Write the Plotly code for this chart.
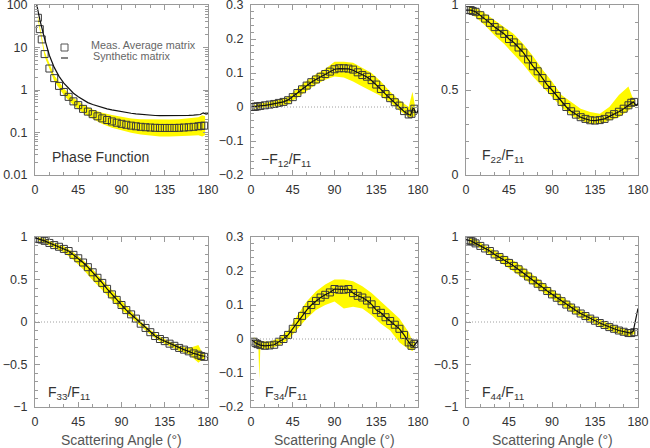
import plotly.graph_objects as go
from plotly.subplots import make_subplots

# ---------------- data ----------------
meas_angle = [3, 5, 7, 10, 15, 20, 25, 30, 35, 40, 45, 50, 55, 60, 65, 70, 75, 80, 85, 90,
              95, 100, 105, 110, 115, 120, 125, 130, 135, 140, 145, 150, 155, 160, 165, 170, 173, 176]

meas_f11 = [50, 27, 15.5, 7.0, 3.2, 1.9, 1.25, 0.90, 0.69, 0.54, 0.44, 0.36, 0.31, 0.27, 0.24, 0.215,
            0.197, 0.182, 0.170, 0.160, 0.152, 0.145, 0.140, 0.136, 0.133, 0.131, 0.129, 0.128, 0.128,
            0.128, 0.128, 0.129, 0.131, 0.133, 0.136, 0.140, 0.143, 0.145]
meas_f12 = [0.0, 0.001, 0.002, 0.003, 0.005, 0.007, 0.009, 0.012, 0.015, 0.02, 0.029, 0.041, 0.052,
            0.063, 0.073, 0.081, 0.089, 0.097, 0.104, 0.111, 0.114, 0.114, 0.113, 0.110, 0.102, 0.094,
            0.089, 0.079, 0.066, 0.053, 0.038, 0.026, 0.014, 0.004, -0.012, -0.022, -0.02, -0.005]
meas_f22 = [0.97, 0.97, 0.965, 0.96, 0.94, 0.92, 0.895, 0.87, 0.85, 0.83, 0.80, 0.78, 0.75, 0.72, 0.68,
            0.64, 0.61, 0.57, 0.53, 0.50, 0.465, 0.43, 0.40, 0.375, 0.355, 0.34, 0.33, 0.322, 0.32,
            0.323, 0.33, 0.345, 0.358, 0.372, 0.39, 0.41, 0.425, 0.43]
meas_f33 = [0.98, 0.975, 0.97, 0.955, 0.93, 0.905, 0.885, 0.86, 0.835, 0.79, 0.75, 0.70, 0.645, 0.585,
            0.52, 0.46, 0.39, 0.325, 0.26, 0.2, 0.14, 0.09, 0.04, -0.02, -0.07, -0.12, -0.165, -0.2,
            -0.225, -0.255, -0.28, -0.305, -0.325, -0.345, -0.37, -0.385, -0.40, -0.41]
meas_f34 = [-0.008, -0.012, -0.015, -0.018, -0.02, -0.019, -0.017, -0.008, 0.0, 0.012, 0.03, 0.05,
            0.068, 0.085, 0.1, 0.112, 0.122, 0.13, 0.137, 0.147, 0.145, 0.145, 0.147, 0.135, 0.127,
            0.122, 0.113, 0.102, 0.085, 0.077, 0.064, 0.053, 0.042, 0.03, 0.012, -0.01, -0.02, -0.015]
meas_f44 = [0.96, 0.955, 0.945, 0.925, 0.895, 0.865, 0.835, 0.795, 0.765, 0.73, 0.695, 0.66, 0.62,
            0.58, 0.535, 0.49, 0.45, 0.41, 0.365, 0.325, 0.285, 0.245, 0.205, 0.17, 0.135, 0.1, 0.07,
            0.04, 0.015, -0.012, -0.035, -0.06, -0.08, -0.1, -0.115, -0.13, -0.13, -0.12]

syn_angle = [0, 5, 10, 15, 20, 25, 30, 35, 40, 45, 50, 55, 60, 65, 70, 75, 80, 85, 90, 95, 100,
             105, 110, 115, 120, 125, 130, 135, 140, 145, 150, 155, 160, 165, 170, 172, 175, 178, 180]

syn_f11 = [160, 45, 16, 6.5, 3.4, 2.1, 1.45, 1.07, 0.84, 0.69, 0.58, 0.505, 0.455, 0.415, 0.385, 0.36,
           0.34, 0.322, 0.308, 0.295, 0.284, 0.275, 0.267, 0.26, 0.255, 0.251, 0.249, 0.248, 0.248,
           0.248, 0.249, 0.25, 0.252, 0.255, 0.259, 0.265, 0.29, 0.27, 0.28]
syn_f12 = [0.0, 0.001, 0.003, 0.005, 0.007, 0.009, 0.012, 0.015, 0.021, 0.03, 0.041, 0.052, 0.063,
           0.073, 0.081, 0.089, 0.097, 0.104, 0.111, 0.113, 0.113, 0.112, 0.108, 0.101, 0.094, 0.088,
           0.078, 0.066, 0.052, 0.038, 0.025, 0.013, 0.002, -0.013, -0.022, -0.024, 0.0, -0.022, -0.01]
syn_f22 = [0.97, 0.97, 0.96, 0.94, 0.92, 0.895, 0.87, 0.85, 0.83, 0.80, 0.78, 0.75, 0.72, 0.68, 0.64,
           0.61, 0.57, 0.53, 0.50, 0.465, 0.43, 0.40, 0.375, 0.355, 0.34, 0.33, 0.322, 0.32, 0.323,
           0.33, 0.345, 0.358, 0.372, 0.39, 0.41, 0.42, 0.43, 0.41, 0.42]
syn_f33 = [0.99, 0.975, 0.955, 0.93, 0.905, 0.885, 0.86, 0.835, 0.79, 0.75, 0.70, 0.645, 0.585, 0.52,
           0.46, 0.39, 0.325, 0.26, 0.2, 0.14, 0.09, 0.04, -0.02, -0.07, -0.12, -0.165, -0.2, -0.225,
           -0.255, -0.28, -0.305, -0.325, -0.345, -0.37, -0.385, -0.395, -0.40, -0.405, -0.41]
syn_f34 = [0.0, -0.012, -0.018, -0.02, -0.019, -0.017, -0.008, 0.0, 0.012, 0.03, 0.05, 0.068, 0.085,
           0.1, 0.112, 0.122, 0.13, 0.137, 0.147, 0.145, 0.145, 0.147, 0.135, 0.127, 0.122, 0.113,
           0.102, 0.085, 0.077, 0.064, 0.053, 0.042, 0.03, 0.012, -0.01, -0.017, -0.022, -0.012, -0.005]
syn_f44 = [0.97, 0.955, 0.925, 0.895, 0.865, 0.835, 0.795, 0.765, 0.73, 0.695, 0.66, 0.62, 0.58,
           0.535, 0.49, 0.45, 0.41, 0.365, 0.325, 0.285, 0.245, 0.205, 0.17, 0.135, 0.1, 0.07, 0.04,
           0.015, -0.012, -0.035, -0.06, -0.08, -0.1, -0.115, -0.13, -0.13, -0.11, 0.05, 0.16]

band_angle = [3, 8, 9, 10, 20, 30, 40, 50, 60, 70, 80, 90, 100, 110, 120, 130, 140, 150, 160, 170, 174, 177]

band_lo_f11 = [44.6, 9.6, 7.8, 6.1, 1.62, 0.75, 0.44, 0.286, 0.21, 0.159, 0.129, 0.111, 0.098, 0.090,
               0.085, 0.081, 0.081, 0.081, 0.084, 0.086, 0.081, 0.087]
band_hi_f11 = [56, 12.6, 10.3, 8.0, 2.23, 1.08, 0.66, 0.45, 0.348, 0.29, 0.257, 0.231, 0.214, 0.206,
               0.203, 0.203, 0.203, 0.204, 0.211, 0.227, 0.256, 0.24]
band_lo_f12 = [-0.005, -0.004, -0.004, -0.004, 0.0, 0.003, 0.008, 0.028, 0.048, 0.066, 0.08, 0.09,
               0.087, 0.075, 0.06, 0.045, 0.032, 0.013, -0.01, -0.03, -0.03, -0.025]
band_hi_f12 = [0.005, 0.009, 0.01, 0.01, 0.015, 0.022, 0.03, 0.055, 0.077, 0.096, 0.112, 0.133, 0.133,
               0.13, 0.115, 0.1, 0.075, 0.045, 0.02, 0.0, 0.045, 0.0]
band_lo_f22 = [0.95, 0.935, 0.93, 0.93, 0.88, 0.82, 0.77, 0.71, 0.65, 0.58, 0.52, 0.46, 0.40, 0.35,
               0.32, 0.30, 0.30, 0.32, 0.34, 0.38, 0.40, 0.40]
band_hi_f22 = [0.99, 0.99, 0.985, 0.985, 0.95, 0.91, 0.87, 0.83, 0.77, 0.70, 0.62, 0.55, 0.47, 0.43,
               0.39, 0.37, 0.36, 0.40, 0.47, 0.52, 0.46, 0.44]
band_lo_f33 = [0.96, 0.94, 0.935, 0.93, 0.87, 0.82, 0.73, 0.62, 0.49, 0.37, 0.25, 0.14, 0.05, -0.05,
               -0.15, -0.23, -0.29, -0.34, -0.38, -0.48, -0.44, -0.43]
band_hi_f33 = [1.0, 0.99, 0.985, 0.98, 0.93, 0.89, 0.82, 0.73, 0.62, 0.50, 0.37, 0.25, 0.13, 0.01,
               -0.09, -0.17, -0.23, -0.28, -0.31, -0.27, -0.36, -0.39]
band_lo_f34 = [-0.012, -0.028, -0.12, -0.03, -0.028, -0.02, -0.002, 0.03, 0.06, 0.085, 0.1, 0.11,
               0.09, 0.095, 0.09, 0.07, 0.045, 0.025, -0.01, -0.03, -0.035, -0.025]
band_hi_f34 = [0.005, -0.005, -0.005, -0.006, -0.008, 0.002, 0.025, 0.07, 0.11, 0.14, 0.16, 0.175,
               0.175, 0.17, 0.155, 0.135, 0.11, 0.085, 0.06, 0.02, -0.005, 0.0]
band_lo_f44 = [0.93, 0.91, 0.9, 0.9, 0.83, 0.75, 0.68, 0.60, 0.52, 0.43, 0.35, 0.27, 0.19, 0.12, 0.06,
               0.0, -0.05, -0.10, -0.14, -0.17, -0.15, -0.14]
band_hi_f44 = [0.99, 0.98, 0.975, 0.97, 0.90, 0.84, 0.79, 0.72, 0.64, 0.55, 0.46, 0.38, 0.30, 0.22,
               0.14, 0.08, 0.03, -0.02, -0.06, -0.10, -0.10, -0.10]

x_ticks = [0, 45, 90, 135, 180]
labels = ["Phase Function", "\u2212F<sub>12</sub>/F<sub>11</sub>", "F<sub>22</sub>/F<sub>11</sub>",
          "F<sub>33</sub>/F<sub>11</sub>", "F<sub>34</sub>/F<sub>11</sub>", "F<sub>44</sub>/F<sub>11</sub>"]
x_title = "Scattering Angle (\u00b0)"
legend_texts = ["Meas. Average matrix", "Synthetic matrix"]

# ---------------- figure ----------------
W, H = 650, 448
fig = make_subplots(rows=2, cols=3)

YELLOW = "rgb(255,249,0)"
FRAME = "#9a9a9a"
TXT = "#333333"
FONT = "Liberation Sans"

panels = [
    (meas_f11, syn_f11, band_lo_f11, band_hi_f11),
    (meas_f12, syn_f12, band_lo_f12, band_hi_f12),
    (meas_f22, syn_f22, band_lo_f22, band_hi_f22),
    (meas_f33, syn_f33, band_lo_f33, band_hi_f33),
    (meas_f34, syn_f34, band_lo_f34, band_hi_f34),
    (meas_f44, syn_f44, band_lo_f44, band_hi_f44),
]

for i, (mv, sv, lo, hi) in enumerate(panels):
    r, c = i // 3 + 1, i % 3 + 1
    fig.add_trace(go.Scatter(x=band_angle, y=lo, mode="lines", line=dict(width=0, color=YELLOW),
                             showlegend=False, hoverinfo="skip"), row=r, col=c)
    fig.add_trace(go.Scatter(x=band_angle, y=hi, mode="lines", line=dict(width=0, color=YELLOW),
                             fill="tonexty", fillcolor=YELLOW, showlegend=False, hoverinfo="skip"),
                  row=r, col=c)
    fig.add_trace(go.Scatter(x=meas_angle, y=mv, mode="markers",
                             marker=dict(symbol="square-open", size=7, color="#3a3a3a",
                                         line=dict(width=1, color="#3a3a3a")),
                             showlegend=False), row=r, col=c)
    fig.add_trace(go.Scatter(x=syn_angle, y=sv, mode="lines",
                             line=dict(color="#111111", width=1.2), showlegend=False),
                  row=r, col=c)

# domains (pixels -> paper)
xdom_px = [(35, 208), (251, 418), (466, 638)]
ydom_px = [(5, 175), (237, 407)]

yspecs = [
    dict(type="log", range=[-2, 2], tickvals=[0.01, 0.1, 1, 10, 100],
         ticktext=["0.01", "0.1", "1", "10", "100"],
         minor=dict(tickmode="array",
                    tickvals=[k * 10 ** e for e in (-2, -1, 0, 1) for k in range(2, 10)])),
    dict(range=[-0.2, 0.3], tickvals=[-0.2, -0.1, 0, 0.1, 0.2, 0.3],
         ticktext=["\u22120.2", "\u22120.1", "0", "0.1", "0.2", "0.3"], minor=dict(dtick=0.02)),
    dict(range=[0, 1], tickvals=[0, 0.5, 1], ticktext=["0", "0.5", "1"], minor=dict(dtick=0.1)),
    dict(range=[-1, 1], tickvals=[-1, -0.5, 0, 0.5, 1],
         ticktext=["\u22121", "\u22120.5", "0", "0.5", "1"], minor=dict(dtick=0.1)),
    dict(range=[-0.2, 0.3], tickvals=[-0.2, -0.1, 0, 0.1, 0.2, 0.3],
         ticktext=["\u22120.2", "\u22120.1", "0", "0.1", "0.2", "0.3"], minor=dict(dtick=0.02)),
    dict(range=[-1, 1], tickvals=[-1, -0.5, 0, 0.5, 1],
         ticktext=["\u22121", "\u22120.5", "0", "0.5", "1"], minor=dict(dtick=0.1)),
]

common = dict(showgrid=False, zeroline=False, showline=True, linecolor=FRAME, linewidth=1,
              mirror="allticks", ticks="inside", ticklen=5, tickcolor=FRAME, tickwidth=1,
              automargin=False, ticklabeloverflow="allow",
              tickfont=dict(family=FONT, size=12.5, color=TXT))

for i in range(6):
    r, c = i // 3, i % 3
    xd = [xdom_px[c][0] / W, xdom_px[c][1] / W]
    yd = [1 - ydom_px[r][1] / H, 1 - ydom_px[r][0] / H]
    idx = "" if i == 0 else str(i + 1)
    ys = dict(yspecs[i])
    mn = dict(ticks="inside", ticklen=3, tickcolor=FRAME, showgrid=False)
    mn.update(ys.pop("minor"))
    fig.layout["xaxis" + idx].update(domain=xd, range=[0, 180], tickvals=x_ticks,
                                     minor=dict(ticks="inside", ticklen=3, tickcolor=FRAME,
                                                dtick=15, showgrid=False),
                                     ticklabelstandoff=3, **common)
    fig.layout["yaxis" + idx].update(domain=yd, minor=mn, ticklabelstandoff=4, **ys, **common)

    # dotted zero line
    if i in (1, 3, 4, 5):
        fig.add_shape(type="line", xref="x" + idx + " domain", yref="y" + idx,
                      x0=0, x1=1, y0=0, y1=0,
                      line=dict(color="#a0a0a0", width=1, dash="1px,2px"))

    # panel label
    fig.add_annotation(xref="x" + idx + " domain", yref="y" + idx + " domain",
                       x=[0.085, 0.05, 0.08, 0.065, 0.07, 0.08][i],
                       y=[0.106, 0.09, 0.11, 0.085, 0.08, 0.085][i],
                       xanchor="left", yanchor="middle", showarrow=False, text=labels[i],
                       font=dict(family=FONT, size=14, color=TXT))

    if r == 1:
        fig.add_annotation(xref="x" + idx + " domain", yref="paper", x=0.5, y=1 - 440 / H,
                           xanchor="center", yanchor="middle", showarrow=False, text=x_title,
                           font=dict(family=FONT, size=14, color="#555555"))

# legend in first panel (drawn with shapes + text)
fig.add_shape(type="rect", xref="paper", yref="paper",
              x0=61 / W, x1=68 / W, y0=1 - 51 / H, y1=1 - 44 / H,
              line=dict(color="#555555", width=1))
fig.add_shape(type="line", xref="paper", yref="paper",
              x0=61 / W, x1=68 / W, y0=1 - 58 / H, y1=1 - 58 / H,
              line=dict(color="#333333", width=1.2))
fig.add_annotation(xref="paper", yref="paper", x=89 / W, y=1 - 45 / H, xanchor="left",
                   yanchor="middle", showarrow=False, text=legend_texts[0],
                   font=dict(family=FONT, size=10.8, color="#666666"))
fig.add_annotation(xref="paper", yref="paper", x=91 / W, y=1 - 56 / H, xanchor="left",
                   yanchor="middle", showarrow=False, text=legend_texts[1],
                   font=dict(family=FONT, size=10.8, color="#666666"))

fig.update_layout(width=W, height=H, margin=dict(l=0, r=0, t=0, b=0), autosize=False,
                  paper_bgcolor="white", plot_bgcolor="white", showlegend=False)

fig.write_html("out.html", config={"displayModeBar": False},
               post_script="document.body.style.margin='0';document.body.style.overflow='hidden';")
